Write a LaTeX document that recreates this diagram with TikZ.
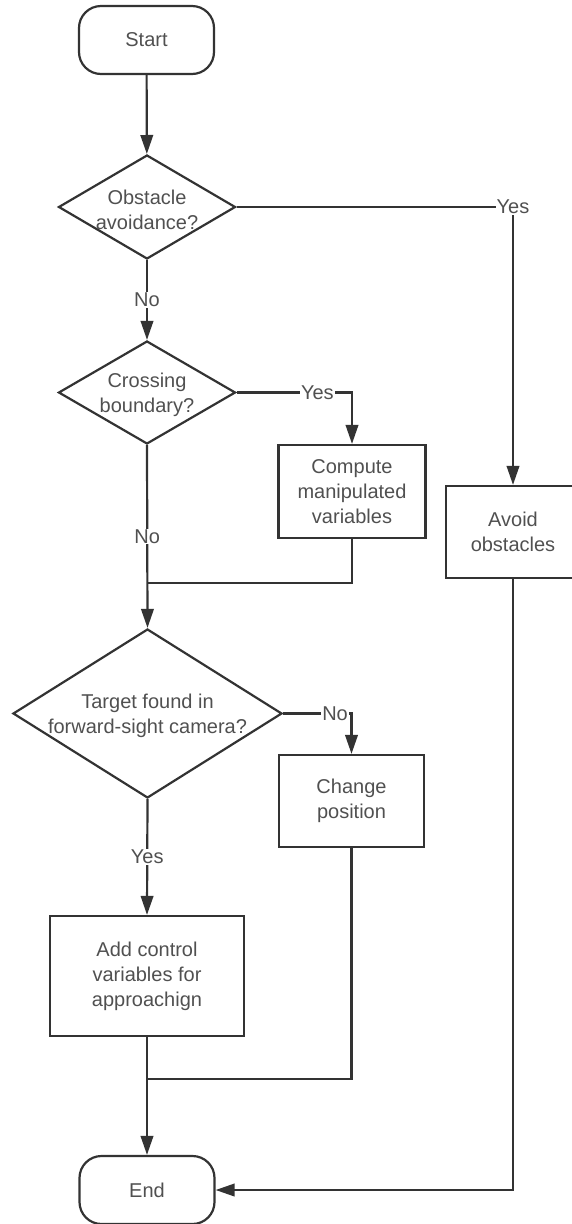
\documentclass[tikz,border=0pt]{standalone}
\usepackage{fontspec}
\setmainfont{Liberation Sans}
\usetikzlibrary{shapes.geometric,arrows.meta}
\definecolor{linegray}{HTML}{333333}
\definecolor{textgray}{HTML}{505050}
\begin{document}
\begin{tikzpicture}[x=1pt,y=-1pt,
  every node/.style={font=\fontsize{20}{25}\selectfont, text=textgray},
  line/.style={draw=linegray, line width=2.2pt},
  arr/.style={line, -{Triangle[length=19pt,width=12.5pt]}},
  term/.style={line, rectangle, rounded corners=22pt, minimum width=135pt, minimum height=68pt, inner sep=0pt},
  proc/.style={line, rectangle, inner sep=0pt, align=center},
  decision/.style={line, diamond, inner sep=0pt},
  lbl/.style={fill=white, inner sep=1pt}
]
\useasboundingbox (0,0) rectangle (572,1224);

% nodes
\node[term] (start) at (146.5,40) {Start};
\node[decision, minimum width=177pt, minimum height=104pt] (d1) at (147,207) {};
\node[align=center] at (147,210) {Obstacle\\avoidance?};
\node[decision, minimum width=177pt, minimum height=103pt] (d2) at (147,392.5) {};
\node[align=center] at (147,395) {Crossing\\boundary?};
\node[proc, minimum width=147pt, minimum height=93pt] (comp) at (352,491.5) {Compute\\manipulated\\variables};
\node[proc, minimum width=134pt, minimum height=92pt] (avoid) at (513,532) {Avoid\\obstacles};
\node[decision, minimum width=269pt, minimum height=169pt] (d3) at (147.5,713.5) {};
\node[align=center] at (147.5,716) {Target found in\\forward-sight camera?};
\node[proc, minimum width=145pt, minimum height=92pt] (chg) at (351.5,801) {Change\\position};
\node[proc, minimum width=194pt, minimum height=120pt] (add) at (147,976) {Add control\\variables for\\approachign};
\node[term] (end) at (147,1190) {End};

% corner and junction points
\coordinate (c1) at (avoid.north |- d1.east);
\coordinate (c2) at (comp.north |- d2.east);
\coordinate (c3) at (chg.north |- d3.east);
\coordinate (m1) at (147,583);
\coordinate (m2) at (147,1079);

% connectors
\draw[arr] (start) -- (d1);
\draw[arr] (d1.east) -- (c1) node[lbl]{Yes} -- (avoid.north);
\draw[arr] (d1.south) -- node[lbl]{No} (d2.north);
\draw[arr] (d2.east) -- node[lbl, pos=0.7]{Yes} (c2) -- (comp.north);
\draw[arr] (d2.south) -- node[lbl]{No} (d3.north);
\draw[line] (comp.south) |- (m1);
\draw[arr] (d3.east) -- node[lbl, pos=0.76]{No} (c3) -- (chg.north);
\draw[arr] (d3.south) -- node[lbl]{Yes} (add.north);
\draw[line] (chg.south) |- (m2);
\draw[arr] (add.south) -- (end.north);
\draw[arr] (avoid.south) |- (end.east);
\end{tikzpicture}
\end{document}
